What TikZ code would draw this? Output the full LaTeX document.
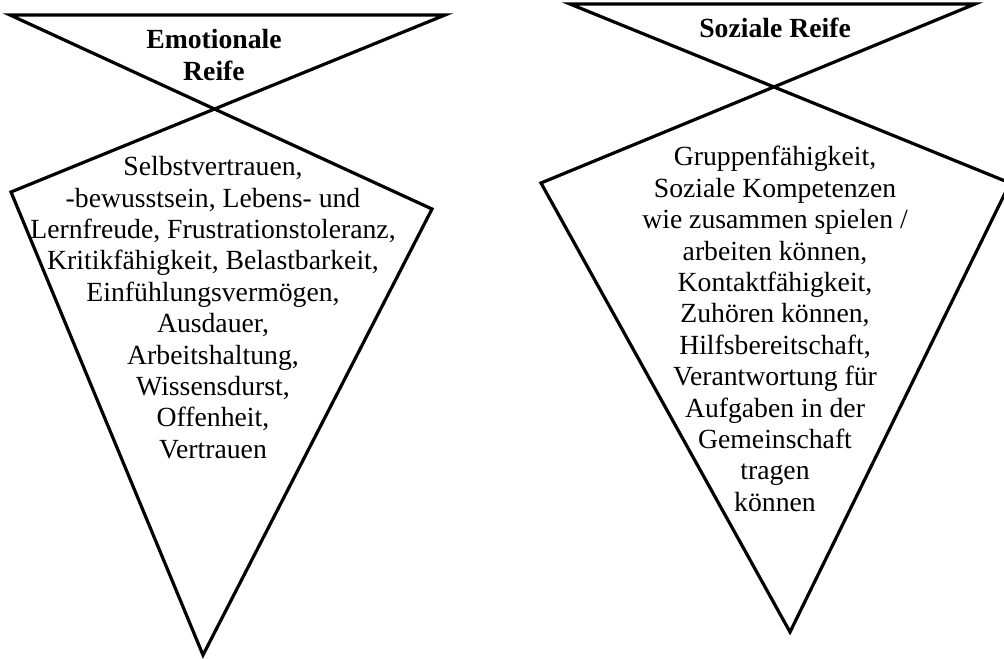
\documentclass[tikz,border=0pt]{standalone}
\usepackage{fontspec}
\setmainfont{Liberation Serif}

\tikzset{
  funnel/.style={line width=1.6pt, line join=miter},
  headtext/.style={font=\fontsize{13.85}{16}\selectfont\bfseries, align=center, inner sep=0pt, anchor=north},
  bodytext/.style={font=\fontsize{13.85}{15.7}\selectfont, align=center, inner sep=0pt, anchor=north}
}

\begin{document}
\begin{tikzpicture}[x=0.5pt, y=-0.5pt]
  \useasboundingbox (0,0) rectangle (1004,658);
  \clip (0,0) rectangle (1004,658);

  % Emotionale Reife: corners of the crossed funnel
  \coordinate (eTL) at (10,15);
  \coordinate (eTR) at (445,15);
  \coordinate (eR) at (432,209);
  \coordinate (eB) at (203,655);
  \coordinate (eL) at (11,192);
  \draw[funnel] (eTL) -- (eR) -- (eB) -- (eL) -- (eTR) -- cycle;

  \node[headtext] (eHead) at (214,29) {Emotionale\\Reife};
  \node[bodytext] (eBody) at (213,156) {Selbstvertrauen,\\
    -bewusstsein, Lebens- und\\
    Lernfreude, Frustrationstoleranz,\\
    Kritikfähigkeit, Belastbarkeit,\\
    Einfühlungsvermögen,\\
    Ausdauer,\\
    Arbeitshaltung,\\
    Wissensdurst,\\
    Offenheit,\\
    Vertrauen};

  % Soziale Reife: corners of the crossed funnel
  \coordinate (sTL) at (570,4);
  \coordinate (sTR) at (975,4);
  \coordinate (sR) at (1010,183);
  \coordinate (sB) at (790,632);
  \coordinate (sL) at (541,183);
  \draw[funnel] (sTL) -- (sR) -- (sB) -- (sL) -- (sTR) -- cycle;

  \node[headtext] (sHead) at (775,18) {Soziale Reife};
  \node[bodytext] (sBody) at (775,146) {Gruppenfähigkeit,\\
    Soziale Kompetenzen\\
    wie zusammen spielen /\\
    arbeiten können,\\
    Kontaktfähigkeit,\\
    Zuhören können,\\
    Hilfsbereitschaft,\\
    Verantwortung für\\
    Aufgaben in der\\
    Gemeinschaft\\
    tragen\\
    können};
\end{tikzpicture}
\end{document}
